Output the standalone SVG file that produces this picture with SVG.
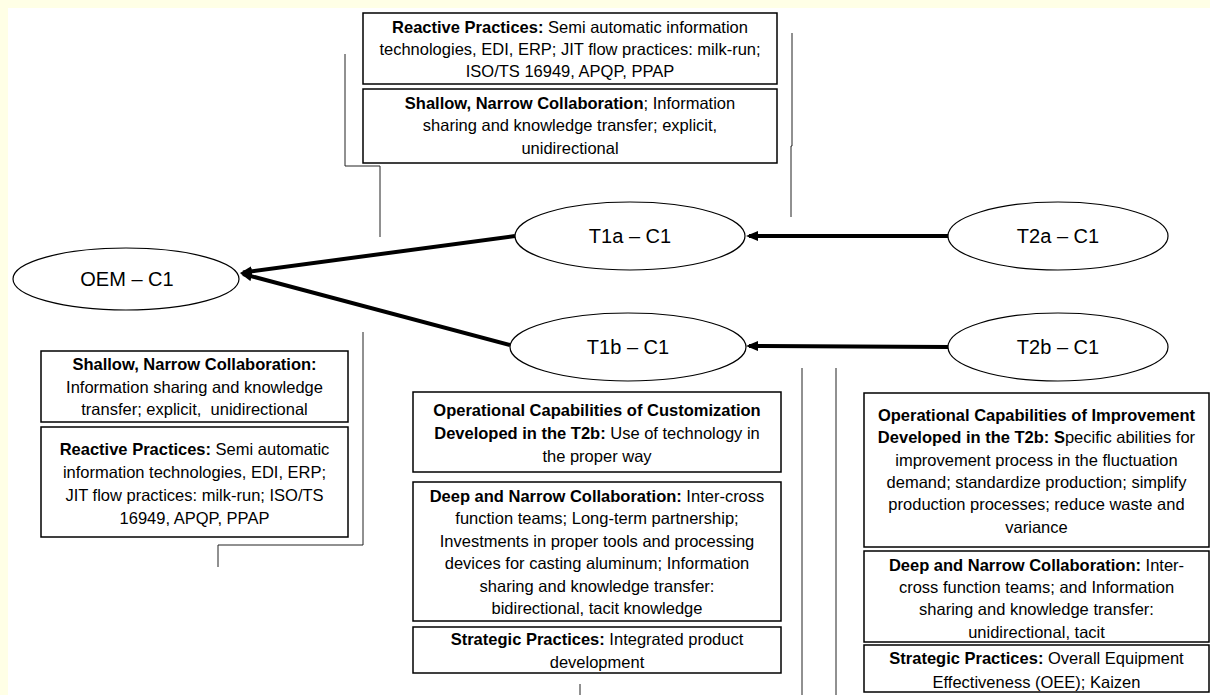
<svg xmlns="http://www.w3.org/2000/svg" width="1210" height="695" viewBox="0 0 1210 695">
<style>
.box{fill:#fff;stroke:#000;stroke-width:1.5}
.ell{fill:#fff;stroke:#000;stroke-width:1.2}
.t{font-family:"Liberation Sans",Arial,sans-serif;font-size:16.5px;fill:#000;text-anchor:middle}
.b{font-weight:bold}
.lbl{font-family:"Liberation Sans",Arial,sans-serif;font-size:20px;fill:#000;text-anchor:middle}
.thin{fill:none;stroke:#222;stroke-width:1}
.arr{fill:none;stroke:#000;stroke-width:4;marker-end:url(#ah)}
</style>
<defs>
<marker id="ah" viewBox="0 0 12 10" refX="9" refY="5" markerWidth="12" markerHeight="10" markerUnits="userSpaceOnUse" orient="auto">
<path d="M0,0 L12,5 L0,10 z" fill="#000"/>
</marker>
</defs>
<rect x="0" y="0" width="1210" height="695" fill="#fff"/>
<rect x="0" y="0" width="1210" height="8" fill="#ffffe6"/>
<rect x="0" y="0" width="8" height="695" fill="#ffffe6"/>

<g id="brackets">
<path class="thin" d="M345,54 V166 H380 V237"/>
<path class="thin" d="M792,33 V146 H791 V217"/>
<path class="thin" d="M363,332 V545 H218 V567"/>
<path class="thin" d="M580,684 V695"/>
<path class="thin" d="M802,368 V695"/>
<path class="thin" d="M836,368 V695"/>
</g>

<g id="connectors">
<line class="arr" x1="515" y1="236" x2="243" y2="272.5"/>
<line class="arr" x1="510" y1="345" x2="243" y2="274"/>
<line class="arr" x1="948" y1="236" x2="749" y2="236"/>
<line class="arr" x1="948" y1="347" x2="749" y2="346"/>
</g>

<g id="node-oem">
<ellipse class="ell" cx="126" cy="279" rx="113" ry="31"/>
<text class="lbl" x="127" y="286">OEM – C1</text>
</g>
<g id="node-t1a">
<ellipse class="ell" cx="630" cy="236" rx="115" ry="34"/>
<text class="lbl" x="630" y="243">T1a – C1</text>
</g>
<g id="node-t1b">
<ellipse class="ell" cx="628" cy="347" rx="118" ry="34"/>
<text class="lbl" x="628" y="354">T1b – C1</text>
</g>
<g id="node-t2a">
<ellipse class="ell" cx="1058" cy="236" rx="110" ry="34"/>
<text class="lbl" x="1058" y="243">T2a – C1</text>
</g>
<g id="node-t2b">
<ellipse class="ell" cx="1058" cy="347" rx="110" ry="34"/>
<text class="lbl" x="1058" y="354">T2b – C1</text>
</g>

<g id="box-t1a-reactive">
<rect class="box" x="363" y="13" width="414" height="71"/>
<text class="t" x="570" y="33"><tspan class="b">Reactive Practices:</tspan> Semi automatic information</text>
<text class="t" x="570" y="55">technologies, EDI, ERP; JIT flow practices: milk-run;</text>
<text class="t" x="570" y="77">ISO/TS 16949, APQP, PPAP</text>
</g>
<g id="box-t1a-collab">
<rect class="box" x="363" y="89" width="414" height="74"/>
<text class="t" x="570" y="109"><tspan class="b">Shallow, Narrow Collaboration</tspan>; Information</text>
<text class="t" x="570" y="131">sharing and knowledge transfer; explicit,</text>
<text class="t" x="570" y="154">unidirectional</text>
</g>

<g id="box-oem-collab">
<rect class="box" x="41" y="351" width="307" height="71"/>
<text class="t" x="194.5" y="370"><tspan class="b">Shallow, Narrow Collaboration:</tspan></text>
<text class="t" x="194.5" y="393">Information sharing and knowledge</text>
<text class="t" x="194.5" y="415" style="white-space:pre">transfer; explicit,  unidirectional</text>
</g>
<g id="box-oem-reactive">
<rect class="box" x="41" y="427" width="307" height="110"/>
<text class="t" x="194.5" y="455"><tspan class="b">Reactive Practices:</tspan> Semi automatic</text>
<text class="t" x="194.5" y="478">information technologies, EDI, ERP;</text>
<text class="t" x="194.5" y="501">JIT flow practices: milk-run; ISO/TS</text>
<text class="t" x="194.5" y="524">16949, APQP, PPAP</text>
</g>

<g id="box-t1b-capab">
<rect class="box" x="413" y="392" width="368" height="80"/>
<text class="t" x="597" y="416"><tspan class="b">Operational Capabilities of Customization</tspan></text>
<text class="t" x="597" y="439"><tspan class="b">Developed in the T2b:</tspan> Use of technology in</text>
<text class="t" x="597" y="462">the proper way</text>
</g>
<g id="box-t1b-collab">
<rect class="box" x="413" y="482" width="368" height="139"/>
<text class="t" x="597" y="502"><tspan class="b">Deep and Narrow Collaboration:</tspan> Inter-cross</text>
<text class="t" x="597" y="524">function teams; Long-term partnership;</text>
<text class="t" x="597" y="547">Investments in proper tools and processing</text>
<text class="t" x="597" y="569">devices for casting aluminum; Information</text>
<text class="t" x="597" y="592">sharing and knowledge transfer:</text>
<text class="t" x="597" y="614">bidirectional, tacit knowledge</text>
</g>
<g id="box-t1b-strategic">
<rect class="box" x="413" y="627" width="368" height="46"/>
<text class="t" x="597" y="645"><tspan class="b">Strategic Practices:</tspan> Integrated product</text>
<text class="t" x="597" y="668">development</text>
</g>

<g id="box-t2b-capab">
<rect class="box" x="864" y="393" width="345" height="154"/>
<text class="t" x="1036.5" y="421"><tspan class="b">Operational Capabilities of Improvement</tspan></text>
<text class="t" x="1036.5" y="443"><tspan class="b">Developed in the T2b: S</tspan>pecific abilities for</text>
<text class="t" x="1036.5" y="466">improvement process in the fluctuation</text>
<text class="t" x="1036.5" y="488">demand; standardize production; simplify</text>
<text class="t" x="1036.5" y="510">production processes; reduce waste and</text>
<text class="t" x="1036.5" y="533">variance</text>
</g>
<g id="box-t2b-collab">
<rect class="box" x="864" y="551" width="345" height="91"/>
<text class="t" x="1036.5" y="571"><tspan class="b">Deep and Narrow Collaboration:</tspan> Inter-</text>
<text class="t" x="1036.5" y="593">cross function teams; and Information</text>
<text class="t" x="1036.5" y="615">sharing and knowledge transfer:</text>
<text class="t" x="1036.5" y="638">unidirectional, tacit</text>
</g>
<g id="box-t2b-strategic">
<rect class="box" x="864" y="645" width="345" height="47"/>
<text class="t" x="1036.5" y="664"><tspan class="b">Strategic Practices:</tspan> Overall Equipment</text>
<text class="t" x="1036.5" y="688">Effectiveness (OEE); Kaizen</text>
</g>
</svg>
